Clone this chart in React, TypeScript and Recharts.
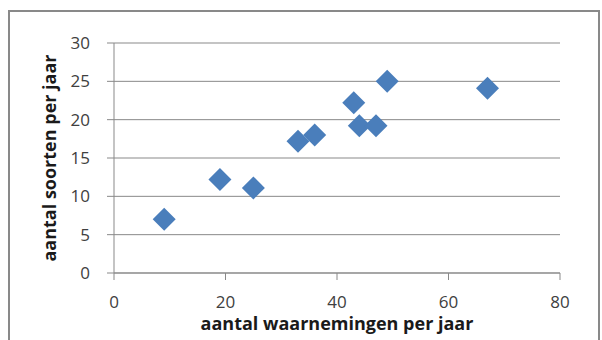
import React from "react";
import { ScatterChart, Scatter, XAxis, YAxis, CartesianGrid } from "recharts";

// aantal waarnemingen (x) en aantal soorten (y) per jaar
const waarnemingen = [9, 19, 25, 33, 36, 43, 44, 47, 49, 67];
const soorten = [7, 12.2, 11.1, 17.2, 18, 22.2, 19.2, 19.2, 25, 24.1];

const xTicks = [0, 20, 40, 60, 80];
const yTicks = [0, 5, 10, 15, 20, 25, 30];

const points = waarnemingen.map((w, i) => ({ x: w, y: soorten[i] }));

const gray = "#898989";
const tickStyle = { fill: "#404040", fontSize: 17, fontFamily: "'Open Sans', sans-serif" };
const titleStyle = { fill: "#1a1a1a", fontSize: 18, fontWeight: 700, fontFamily: "'Open Sans', sans-serif", textAnchor: "middle" as const };

function Diamond(props: any) {
  const { cx, cy } = props;
  const r = 11.5;
  return (
    <polygon
      points={`${cx},${cy - r} ${cx + r},${cy} ${cx},${cy + r} ${cx - r},${cy}`}
      fill="#4a7ebb"
    />
  );
}

export default function App() {
  return (
    <div style={{ position: "absolute", left: 0, top: 0, width: 602, height: 340, background: "#fff", overflow: "hidden" }}>
      <div
        style={{
          position: "absolute",
          left: 8,
          top: 10,
          width: 588,
          height: 340,
          border: `2px solid ${gray}`,
        }}
      />
      <ScatterChart width={602} height={340} margin={{ top: 43, right: 42, bottom: 7, left: 34 }}>
        <CartesianGrid vertical={false} stroke={gray} strokeWidth={1} />
        <XAxis
          type="number"
          dataKey="x"
          domain={[0, 80]}
          ticks={xTicks}
          height={60}
          stroke={gray}
          tickSize={7}
          tickMargin={16}
          tick={tickStyle}
          label={{ value: "aantal waarnemingen per jaar", position: "insideBottom", offset: 3, style: titleStyle }}
        />
        <YAxis
          type="number"
          dataKey="y"
          domain={[0, 30]}
          ticks={yTicks}
          width={80}
          stroke={gray}
          tickSize={7}
          tickMargin={17}
          tick={tickStyle}
          label={{ value: "aantal soorten per jaar", angle: -90, position: "insideLeft", offset: 16, style: titleStyle }}
        />
        <Scatter data={points} shape={Diamond} isAnimationActive={false} />
      </ScatterChart>
    </div>
  );
}
